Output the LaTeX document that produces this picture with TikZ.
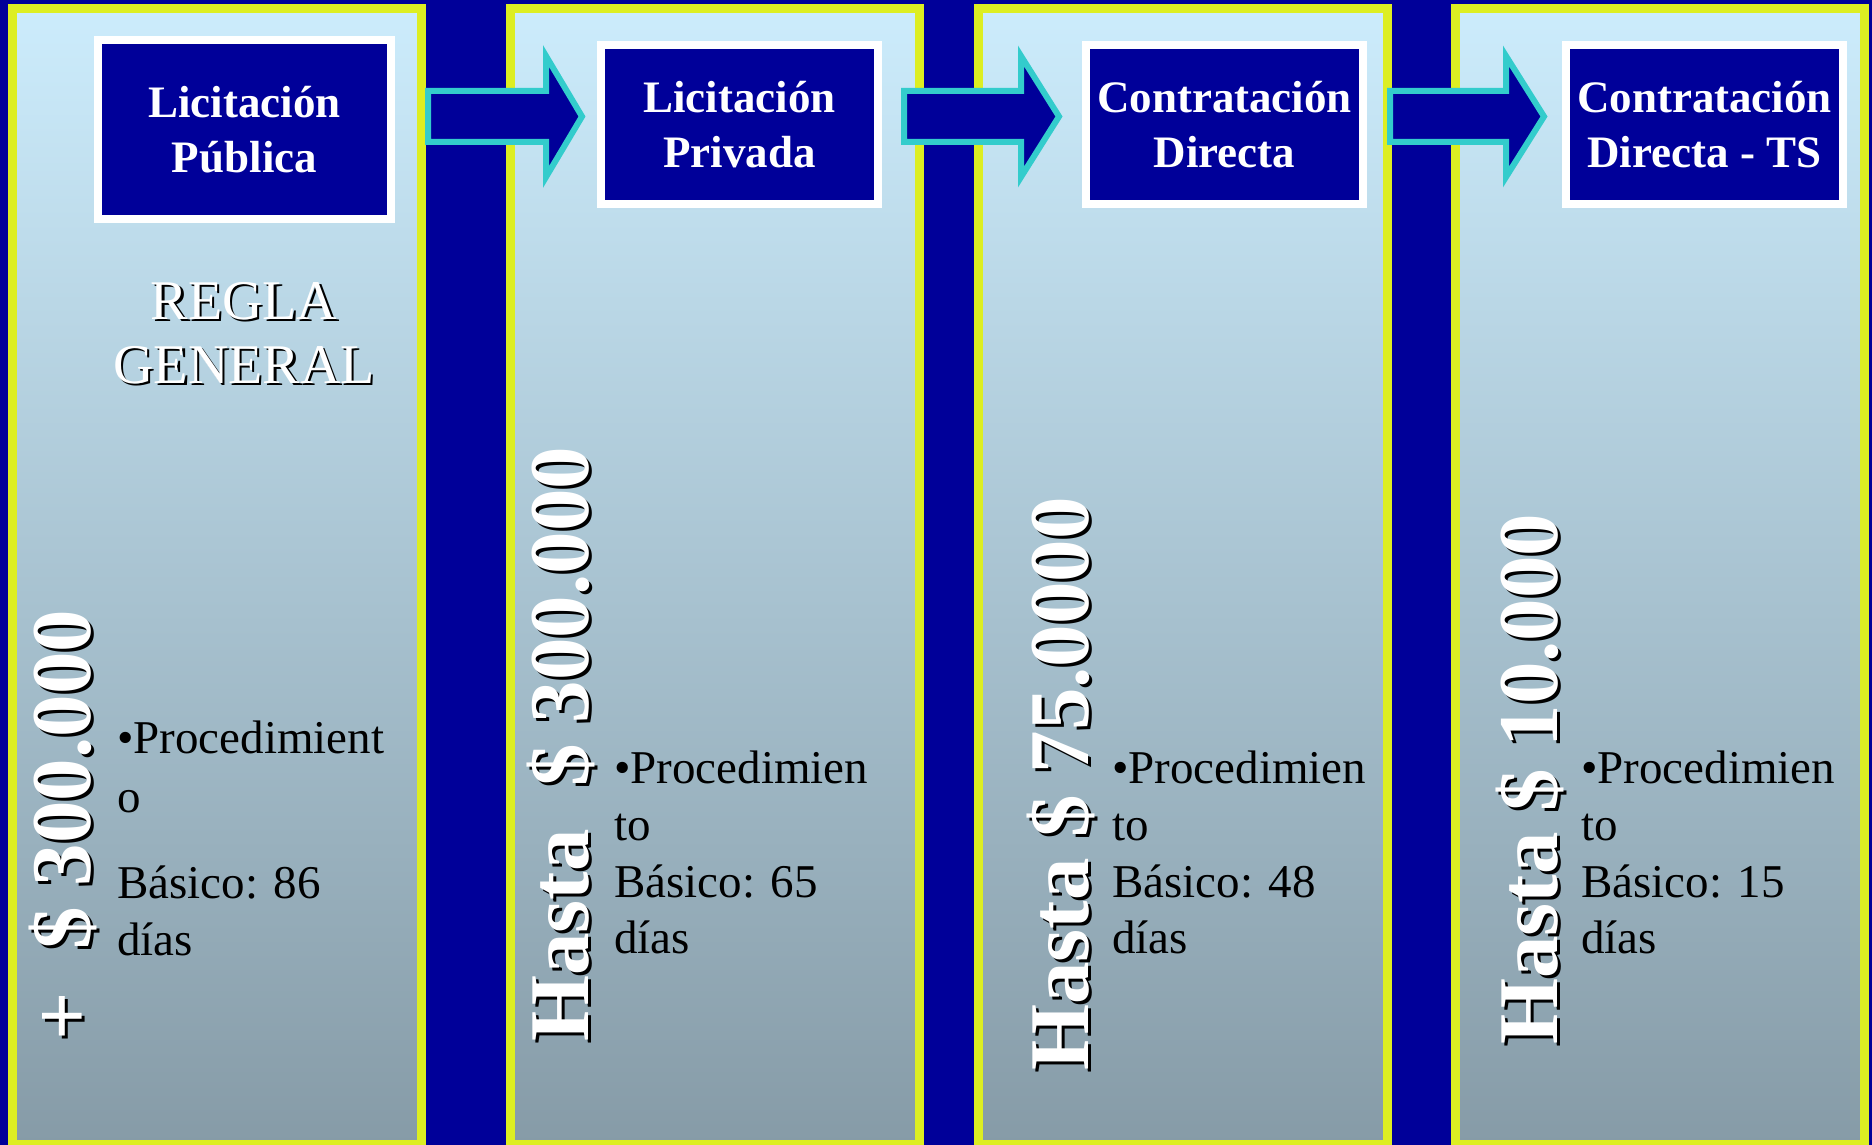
\documentclass[tikz,border=0pt]{standalone}
\usepackage{fontspec}
\setmainfont{Liberation Serif}
\definecolor{bg}{HTML}{000099}
\definecolor{ylw}{HTML}{DDEE22}
\definecolor{cyn}{HTML}{33CCCC}
\definecolor{ptop}{HTML}{CCECFC}
\definecolor{pbot}{HTML}{869BA7}
\begin{document}
\begin{tikzpicture}[x=1pt,y=-1pt,
  panel/.style={draw=ylw, line width=9pt, top color=ptop, bottom color=pbot},
  blockarrow/.style={draw=cyn, fill=bg, line width=6pt, line join=miter},
  hbox/.style={draw=white, fill=bg, line width=8pt, inner sep=0pt, text=white,
    font=\bfseries\fontsize{45}{54.5}\selectfont, align=center,
    minimum width=277pt, minimum height=159pt},
  vlab/.style={rotate=90, anchor=base west, inner sep=0pt, font=\bfseries\fontsize{85}{90}\selectfont},
  vwhite/.style={vlab, text=white},
  vshadow/.style={vlab, text=black},
  regla/.style={anchor=base, inner sep=0pt, font=\fontsize{56}{64}\selectfont},
  body/.style={anchor=base west, inner sep=0pt, text=black, font=\fontsize{47}{57}\selectfont}
]
\useasboundingbox (0,0) rectangle (1872,1145);
\fill[bg] (0,0) rectangle (1872,1145);

% panels
\draw[panel] (12.5,9) rectangle (421,1144.5);
\draw[panel] (510,9) rectangle (919,1144.5);
\draw[panel] (978.5,9) rectangle (1387.5,1144.5);
\draw[panel] (1455,9) rectangle (1864.5,1144.5);

% header boxes
\node[hbox, minimum width=293pt, minimum height=179pt] (b1) at (244.5,129.5) {Licitación\\Pública};
\node[hbox] (b2) at (739.5,124.5) {Licitación\\Privada};
\node[hbox] (b3) at (1224.5,124.5) {Contratación\\Directa};
\node[hbox] (b4) at (1704.5,124.5) {Contratación\\Directa - TS};

% block arrows between the boxes
\foreach \l/\b/\t [count=\i] in {428/546/582, 904/1021/1059, 1390/1506/1544} {
  \coordinate (a\i s) at (\l,116.5);
  \coordinate (a\i t) at (\t,116.5);
  \draw[blockarrow] (\l,91) -- (\b,91) -- (\b,56) -- (a\i t) -- (\b,177) -- (\b,142) -- (\l,142) -- cycle;
}

% REGLA GENERAL
\node[regla, text=black] (r1s) at (246.5,321.5) {REGLA};
\node[regla, text=white] (r1) at (244,319) {REGLA};
\node[regla, text=black] (r2s) at (246.5,385.5) {GENERAL};
\node[regla, text=white] (r2) at (244,383) {GENERAL};

% vertical amounts
\node[vshadow] (v1s) at (93,1044) {+\ \ \$ 300.000};
\node[vwhite] (v1) at (90,1041) {+\ \ \$ 300.000};
\node[vshadow] (v2s) at (591,1045) {Hasta\ \ \$ 300.000};
\node[vwhite] (v2) at (588,1042) {Hasta\ \ \$ 300.000};
\node[vshadow] (v3s) at (1091,1074) {Hasta \$ 75.0000};
\node[vwhite] (v3) at (1088,1071) {Hasta \$ 75.0000};
\node[vshadow] (v4s) at (1560,1048) {Hasta \$ 10.000};
\node[vwhite] (v4) at (1557,1045) {Hasta \$ 10.000};

% body texts
\node[body] (t1a) at (117,753) {•Procedimient};
\node[body] (t1b) at (117,812) {o};
\node[body] (t1c) at (117,898) {Básico: 86};
\node[body] (t1d) at (117,955) {días};

\node[body] (t2a) at (614,783) {•Procedimien};
\node[body] (t2b) at (614,840) {to};
\node[body] (t2c) at (614,897) {Básico: 65};
\node[body] (t2d) at (614,953) {días};

\node[body] (t3a) at (1112,783) {•Procedimien};
\node[body] (t3b) at (1112,840) {to};
\node[body] (t3c) at (1112,897) {Básico: 48};
\node[body] (t3d) at (1112,953) {días};

\node[body] (t4a) at (1581,783) {•Procedimien};
\node[body] (t4b) at (1581,840) {to};
\node[body] (t4c) at (1581,897) {Básico: 15};
\node[body] (t4d) at (1581,953) {días};
\end{tikzpicture}
\end{document}
